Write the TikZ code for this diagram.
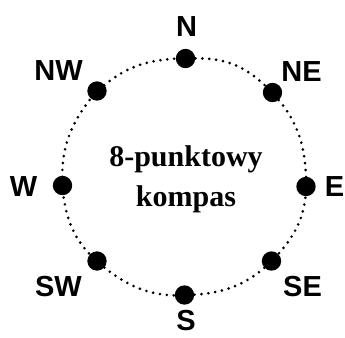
\documentclass[tikz,border=0pt]{standalone}
\usepackage{fontspec}
\setmainfont{Liberation Serif}
\newfontfamily\dirfont{Liberation Sans}

\begin{document}
\begin{tikzpicture}[x=0.75pt, y=-0.75pt,
        point/.style={circle, fill=black, inner sep=0pt, minimum size=14.5pt},
        dirlabel/.style={font=\dirfont\bfseries\fontsize{21.75}{26}\selectfont, inner sep=0pt},
        ring/.style={line width=2.2pt, line cap=round, dash pattern=on 0pt off 5.2pt}]
            \useasboundingbox (0,0) rectangle (345,337);
            % the eight points
            \node[point] (n)  at (185.5, 58.5) {};
            \node[point] (ne) at (272.5, 92.5) {};
            \node[point] (e)  at (306, 186.5) {};
            \node[point] (se) at (271.5, 261) {};
            \node[point] (s)  at (184.5, 295) {};
            \node[point] (sw) at (97, 261) {};
            \node[point] (w)  at (62.5, 185.5) {};
            \node[point] (nw) at (97, 91) {};
            % dotted ring between them
            \draw[ring] (n) to[bend left=22] (ne) to[bend left=22] (e) to[bend left=22] (se)
                to[bend left=22] (s) to[bend left=22] (sw) to[bend left=22] (w)
                to[bend left=22] (nw) to[bend left=22] (n);
            % labels
            \node[dirlabel] (nlab)  at (186.5, 27) {N};
            \node[dirlabel] (nelab) at (301.5, 72) {NE};
            \node[dirlabel] (elab)  at (334.5, 187) {E};
            \node[dirlabel] (selab) at (302.5, 287) {SE};
            \node[dirlabel] (slab)  at (186, 320.5) {S};
            \node[dirlabel] (swlab) at (58.5, 287) {SW};
            \node[dirlabel] (wlab)  at (23.5, 187) {W};
            \node[dirlabel] (nwlab) at (58.5, 71) {NW};
            \node[font=\bfseries\fontsize{22.5}{30}\selectfont, align=center, inner sep=0pt] (title) at (186, 179) {8-punktowy\\kompas};
        \end{tikzpicture}
\end{document}
